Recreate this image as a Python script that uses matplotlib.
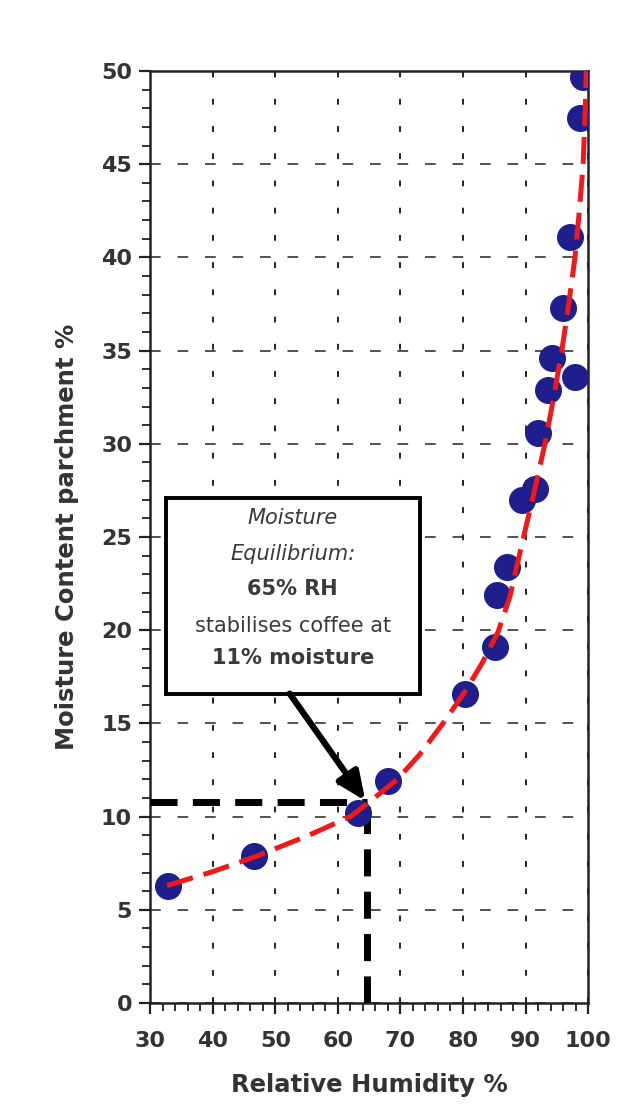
import numpy as np
import matplotlib.pyplot as plt
from matplotlib.patches import Rectangle
from matplotlib.ticker import MultipleLocator

plt.rcParams["font.family"] = ["DejaVu Sans"]

# measured points (RH %, moisture content %)
rh = [32.9, 46.6, 63.2, 68.0, 80.3, 85.1, 85.4, 87.0, 89.5, 91.5,
      92.0, 93.6, 94.2, 97.9, 96.0, 97.1, 98.7, 99.2]
mc = [6.3, 7.9, 10.2, 11.9, 16.6, 19.1, 21.9, 23.4, 27.0, 27.6,
      30.6, 32.9, 34.6, 33.6, 37.3, 41.1, 47.5, 49.7]

# fitted curve
fit_rh = [32.7, 40, 46.8, 55, 62, 64.7, 69.5, 73, 76.8, 80.3, 83, 85.6, 87.5,
          89.4, 91.3, 93.1, 94.5, 95.8, 96.9, 97.9, 98.6, 99.2, 99.5, 99.7]
fit_mc = [6.3, 7.05, 7.85, 8.95, 10.0, 10.7, 12.0, 13.3, 15.0, 16.7, 18.2, 19.9, 21.8,
          24.6, 27.3, 30.0, 32.5, 35.0, 37.5, 40.0, 42.5, 45.0, 47.5, 50.0]

eq_rh = 64.7
eq_mc = 10.8

box_lines = ["Moisture", "Equilibrium:", "65% RH", "stabilises coffee at", "11% moisture"]
box_styles = [("italic", "normal"), ("italic", "normal"), ("normal", "bold"),
              ("normal", "normal"), ("normal", "bold")]

fig = plt.figure(figsize=(6.23, 11.06), dpi=100)
ax = fig.add_axes([0.241, 0.0931, 0.703, 0.8427])

ax.set_xlim(30, 100)
ax.set_ylim(0, 50)
ax.xaxis.set_major_locator(MultipleLocator(10))
ax.xaxis.set_minor_locator(MultipleLocator(2))
ax.yaxis.set_major_locator(MultipleLocator(5))
ax.yaxis.set_minor_locator(MultipleLocator(1))

ax.grid(True, which="major", axis="y", color="#222222", linestyle=(0, (7, 11)), linewidth=1.1)
ax.grid(True, which="major", axis="x", color="#222222", linestyle=(0, (3, 11)), linewidth=1.4)

for s in ax.spines.values():
    s.set_linewidth(1.8)
    s.set_color("#222222")

ax.tick_params(which="major", direction="out", length=8, width=1.6, color="#222222",
               labelsize=16, labelcolor="#333333", pad=5)
ax.tick_params(axis="x", which="major", pad=12)
ax.tick_params(which="minor", direction="out", length=6, width=1.3, color="#222222")
for lab in ax.get_xticklabels() + ax.get_yticklabels():
    lab.set_fontweight("bold")

# equilibrium guide lines
ax.plot([30, eq_rh], [eq_mc, eq_mc], color="black", linewidth=5, linestyle=(0, (3.9, 2.2)),
        zorder=3)
ax.plot([eq_rh, eq_rh], [0, eq_mc], color="black", linewidth=5, linestyle=(0, (3.9, 2.2)),
        zorder=3)

ax.scatter(rh, mc, s=340, color="#1e1e8c", zorder=4)
ax.plot(fit_rh, fit_mc, color="#f01818", linewidth=3.6, linestyle=(0, (5.4, 2.2)), zorder=5)

# annotation box
ax.add_patch(Rectangle((32.6, 16.6), 40.5, 10.5, facecolor="white", edgecolor="black",
                       linewidth=2.8, zorder=6))
line_y = [26.0, 24.1, 22.2, 20.2, 18.5]
for txt, (st, wt), yy in zip(box_lines, box_styles, line_y):
    ax.text(52.8, yy, txt, ha="center", va="center", fontsize=15, style=st,
            fontweight=wt, color="#3a3a3a", zorder=7)

ax.annotate("", xy=(eq_rh - 0.3, eq_mc + 0.05), xytext=(52.3, 16.6),
            arrowprops=dict(arrowstyle="-|>,head_length=1.7,head_width=0.75",
                            color="black", linewidth=4.5, shrinkA=0, shrinkB=0),
            zorder=7)

ax.set_xlabel("Relative Humidity %", fontsize=17.5, fontweight="bold", color="#333333",
              labelpad=16)
ax.set_ylabel("Moisture Content parchment %", fontsize=17.5, fontweight="bold",
              color="#333333", labelpad=16)

fig.savefig("out.png", dpi=100)
